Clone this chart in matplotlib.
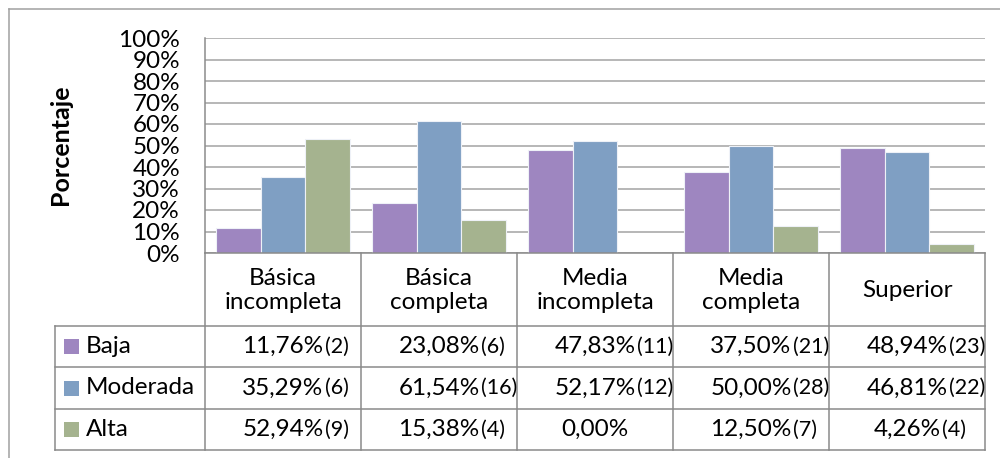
import matplotlib.pyplot as plt
from matplotlib.lines import Line2D
from matplotlib.patches import Rectangle
import numpy as np

plt.rcParams['font.family'] = ['Lato', 'DejaVu Sans']

# Nivel educativo vs. nivel de actividad (porcentaje y n)
categorias = ['Básica\nincompleta', 'Básica\ncompleta', 'Media\nincompleta', 'Media\ncompleta', 'Superior']
series = ['Baja', 'Moderada', 'Alta']
baja = [11.76, 23.08, 47.83, 37.50, 48.94]
moderada = [35.29, 61.54, 52.17, 50.00, 46.81]
alta = [52.94, 15.38, 0.00, 12.50, 4.26]
n_baja = [2, 6, 11, 21, 23]
n_moderada = [6, 16, 12, 28, 22]
n_alta = [9, 4, None, 7, 4]
colores = ['#9e86c0', '#7f9fc3', '#a5b38f']

valores = [baja, moderada, alta]
conteos = [n_baja, n_moderada, n_alta]

W, H = 1000, 458
fig = plt.figure(figsize=(W / 100, H / 100), dpi=100)

# plot area in pixel units
px_left, px_right, px_top, px_bottom = 205, 985, 38, 253
ax = fig.add_axes([px_left / W, 1 - px_bottom / H,
                   (px_right - px_left) / W, (px_bottom - px_top) / H])

x = np.arange(len(categorias))
ancho = 0.2865
for i, (vals, col) in enumerate(zip(valores, colores)):
    ax.bar(x + (i - 1) * ancho, vals, width=ancho, color=col,
           edgecolor='#eef1f7', linewidth=0.8, zorder=3)

ax.set_xlim(-0.5, len(categorias) - 0.5)
ax.set_ylim(0, 100)
ax.set_yticks(np.arange(0, 101, 10))
ax.set_yticklabels([f'{v}%' for v in range(0, 101, 10)], fontsize=17.5)
ax.tick_params(axis='y', length=0, pad=18)
ax.set_xticks([])
ax.grid(axis='y', color='#a3a3a3', linewidth=1.1, zorder=0)
for s in ['right', 'bottom', 'top']:
    ax.spines[s].set_visible(False)
ax.spines['left'].set_color('#8c8c8c')
ax.spines['left'].set_linewidth(1.1)

fig.text(60 / W, 1 - 145 / H, 'Porcentaje', rotation=90, ha='center',
         va='center', fontsize=18, fontweight='bold')

# overlay in pixel coordinates for the data table and outer frame
ov = fig.add_axes([0, 0, 1, 1], facecolor='none')
ov.set_xlim(0, W)
ov.set_ylim(H, 0)
ov.axis('off')

borde = dict(color='#8a8a8a', linewidth=1.1)
ov.add_line(Line2D([9, W], [9, 9], color='#a0a0a0', linewidth=1.1))
ov.add_line(Line2D([9, 9], [9, H], color='#a0a0a0', linewidth=1.1))

col_w = (px_right - px_left) / len(categorias)
bordes_x = [px_left + k * col_w for k in range(len(categorias) + 1)]
tabla_left = 55
filas_y = [326, 367, 409, 450]

ov.add_line(Line2D([px_left, px_right], [px_bottom, px_bottom], **borde))
for bx in bordes_x:
    ov.add_line(Line2D([bx, bx], [px_bottom, filas_y[-1]], **borde))
ov.add_line(Line2D([tabla_left, tabla_left], [filas_y[0], filas_y[-1]], **borde))
for fy in filas_y:
    ov.add_line(Line2D([tabla_left, px_right], [fy, fy], **borde))

# header row
for k, cat in enumerate(categorias):
    cx = px_left + (k + 0.5) * col_w
    ov.text(cx, (px_bottom + filas_y[0]) / 2 + 1, cat, ha='center', va='center',
            fontsize=17.5, linespacing=1.2)

# data rows
for r, (nombre, vals, ns, col) in enumerate(zip(series, valores, conteos, colores)):
    cy = (filas_y[r] + filas_y[r + 1]) / 2
    ov.add_patch(Rectangle((64, cy - 7.5), 15, 15, facecolor=col, edgecolor='none'))
    ov.text(86, cy, nombre, ha='left', va='center', fontsize=17.5)
    for k, (v, n) in enumerate(zip(vals, ns)):
        cx = px_left + (k + 0.5) * col_w
        t = ov.text(cx, cy, f'{v:.2f}%'.replace('.', ','), ha='center',
                    va='center', fontsize=17.5)
        if n is not None:
            ov.annotate(f'({n})', xy=(1, 0.5), xycoords=t, xytext=(1, 0),
                        textcoords='offset points', ha='left', va='center',
                        fontsize=15.5)

fig.savefig('out.png', dpi=100)
